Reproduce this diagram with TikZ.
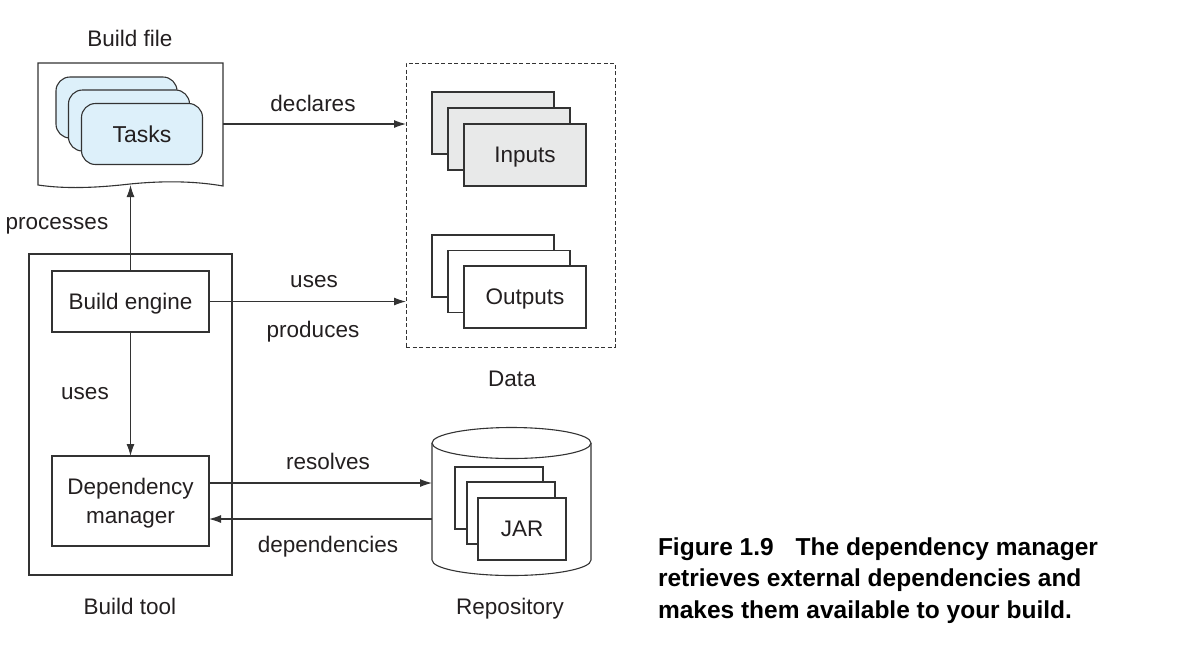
\documentclass[tikz,border=0pt]{standalone}
\usepackage{fontspec}
\setmainfont{Liberation Sans}
\usetikzlibrary{arrows.meta}
\definecolor{ink}{HTML}{231F20}
\definecolor{edge}{HTML}{333333}
\definecolor{taskfill}{HTML}{DDF0FA}
\definecolor{infill}{HTML}{E8E9E9}
\tikzset{
  base/.style={inner sep=0pt, outer sep=0pt, text=ink, text depth=0pt, font=\fontsize{22.5}{27}\selectfont},
  box/.style={base, draw=edge, line width=1.1pt, fill=white},
  card/.style={box, minimum width=122, minimum height=62},
  jarcard/.style={box, minimum width=88, minimum height=62},
  taskcard/.style={box, fill=taskfill, rounded corners=14pt, minimum width=121, minimum height=61, font=\fontsize{23}{27}\selectfont},
  lbl/.style={base},
  capt/.style={inner sep=0pt, outer sep=0pt, anchor=base west, font=\fontsize{24.5}{29}\bfseries\selectfont, text=black},
  arr/.style={draw=edge, line width=1.1pt, -{Latex[length=12pt,width=8pt]}},
  outline/.style={draw=edge, line width=1.1pt},
}
\begin{document}
\begin{tikzpicture}[x=1pt,y=-1pt]
\useasboundingbox (0,0) rectangle (1177,657);
% Build file document
\node[base, minimum width=185, minimum height=122] (doc) at (130.5,124) {};
\draw[outline, fill=white] (doc.north west) -- (doc.north east) -- (223,186)
  .. controls (200,182) and (170,180) .. (130,184)
  .. controls (95,188) and (65,189) .. (38,185) -- cycle;
\node[taskcard] (t1) at (116.5,107.5) {};
\node[taskcard] (t2) at (129,120.5) {};
\node[taskcard] (tasks) at (142,134) {Tasks};
\node[lbl] (bflabel) at (130,38) {Build file};
% Data
\node[base, draw=edge, line width=0.9pt, dash pattern=on 4pt off 2.5pt, minimum width=209, minimum height=284] (data) at (510.5,205) {};
\node[card, fill=infill] (i1) at (493,123) {};
\node[card, fill=infill] (i2) at (509,139) {};
\node[card, fill=infill] (inputs) at (525,155) {Inputs};
\node[card] (o1) at (493,266) {};
\node[card] (o2) at (509,281.5) {};
\node[card] (outputs) at (525,297) {Outputs};
\node[lbl] (datalabel) at (512,379) {Data};
% Build tool
\node[box, fill=none, minimum width=203, minimum height=321] (tool) at (130.5,414.5) {};
\node[box, minimum width=157, minimum height=61] (engine) at (130.5,301.5) {Build engine};
\node[box, minimum width=157, minimum height=90, align=center, font=\fontsize{22.5}{29.5}\selectfont] (dm) at (130.5,501) {Dependency\\manager};
\node[lbl] (toollabel) at (130,606) {Build tool};
% Repository
\node[base, minimum width=159, minimum height=148] (repo) at (511.5,501) {};
\draw[outline, fill=white] (432,443) -- (432,560)
  .. controls (432,568.6) and (467.6,575.5) .. (511.5,575.5)
  .. controls (555.4,575.5) and (591,568.6) .. (591,560) -- (591,443);
\draw[outline, fill=white] (511.5,443) ellipse (79.5 and 15.5);
\node[jarcard] (j1) at (499,498) {};
\node[jarcard] (j2) at (511,513) {};
\node[jarcard] (jar) at (522,529) {JAR};
\node[lbl] (repolabel) at (510,606) {Repository};
% connectors
\draw[arr] (doc.east) -- (doc.east -| data.west);
\draw[arr] (engine.north) -- (engine.north |- doc.south);
\draw[arr] (engine.east) -- (engine.east -| data.west);
\draw[arr] (engine.south) -- (dm.north);
\draw[arr] ([yshift=18pt]dm.east) -- ([yshift=18pt]dm.east -| repo.west);
\draw[arr] ([yshift=-18pt]dm.east -| repo.west) -- ([yshift=-18pt]dm.east);
% labels
\node[lbl] (ldeclares) at (313,103) {declares};
\node[lbl] (lprocesses) at (57,223) {processes};
\node[lbl] (luses1) at (314,281) {uses};
\node[lbl] (lproduces) at (313,329) {produces};
\node[lbl] (luses2) at (85,393) {uses};
\node[lbl] (lresolves) at (328,461) {resolves};
\node[lbl] (ldeps) at (328,544) {dependencies};
% caption
\node[capt] (cap1) at (658,555) {Figure 1.9\hspace{22pt}The dependency manager};
\node[capt] (cap2) at (658,586.5) {retrieves external dependencies and};
\node[capt] (cap3) at (658,618) {makes them available to your build.};
\end{tikzpicture}
\end{document}
